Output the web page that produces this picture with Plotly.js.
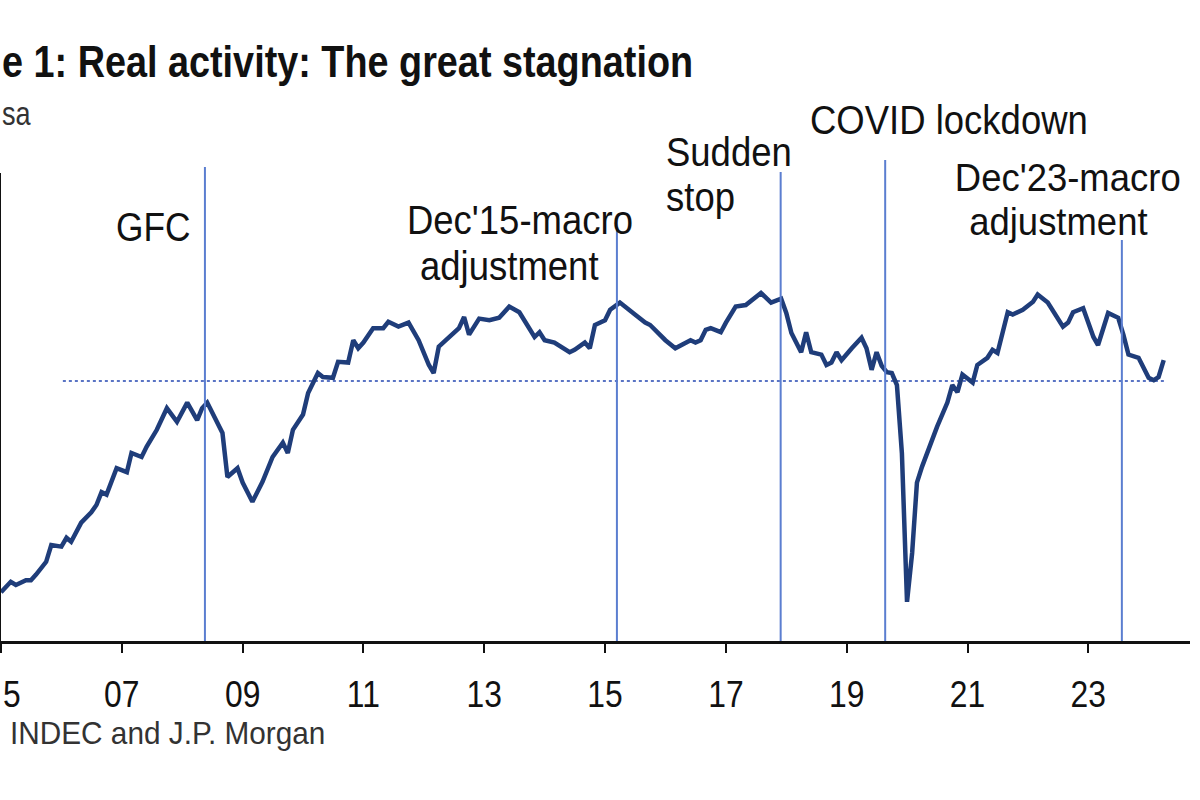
<!DOCTYPE html>
<html>
<head>
<meta charset="utf-8">
<script src="https://cdn.plot.ly/plotly-3.0.1.min.js"></script>
<style>
  html, body { margin: 0; padding: 0; background: #ffffff; }
  #chart { width: 1200px; height: 800px; }
</style>
</head>
<body>
<div id="chart"></div>
<script>
// ---- DATA ----
const dates = [
  '2005-01','2005-03','2005-04','2005-06','2005-07','2005-08','2005-10','2005-11',
  '2006-01','2006-02','2006-03','2006-05','2006-07','2006-08','2006-09','2006-10','2006-12',
  '2007-02','2007-03','2007-05','2007-06','2007-08','2007-10','2007-12',
  '2008-02','2008-04','2008-05','2008-06','2008-09','2008-10','2008-12',
  '2009-01','2009-03','2009-05','2009-07','2009-09','2009-10','2009-11',
  '2010-01','2010-02','2010-04','2010-05','2010-07','2010-08','2010-10','2010-11','2010-12',
  '2011-01','2011-03','2011-05','2011-06','2011-08','2011-10','2011-12',
  '2012-02','2012-03','2012-04','2012-06','2012-08','2012-09','2012-10','2012-12',
  '2013-02','2013-04','2013-06','2013-08','2013-10','2013-11','2013-12',
  '2014-01','2014-03','2014-06','2014-07','2014-09','2014-10','2014-11',
  '2015-01','2015-02','2015-04','2015-06','2015-07','2015-09','2015-10',
  '2016-01','2016-03','2016-06','2016-07','2016-08','2016-09','2016-10','2016-12',
  '2017-01','2017-03','2017-05','2017-07','2017-08','2017-10','2017-12',
  '2018-01','2018-02','2018-04','2018-05','2018-06','2018-08','2018-09','2018-10','2018-11','2018-12',
  '2019-02','2019-04','2019-05','2019-06','2019-07','2019-08','2019-09','2019-10','2019-11','2019-12',
  '2020-01','2020-02','2020-03','2020-04','2020-07','2020-09','2020-10','2020-11','2020-12',
  '2021-02','2021-03','2021-05','2021-06','2021-07','2021-09','2021-10','2021-12',
  '2022-02','2022-03','2022-05','2022-08','2022-09','2022-10','2022-12',
  '2023-02','2023-03','2023-05','2023-07','2023-08','2023-09','2023-11',
  '2024-01','2024-02','2024-03','2024-04'
];
const activity = [
  106.1,107.4,107.0,107.6,107.6,108.3,109.9,112.0,
  111.8,112.9,112.4,114.8,116.1,117.0,118.6,118.3,121.6,
  121.1,123.5,123.0,124.3,126.4,129.1,127.4,
  129.8,127.6,129.1,129.8,126.0,120.5,121.6,
  119.8,117.4,119.9,123.0,124.8,123.5,126.4,
  128.3,131.0,133.5,133.0,132.9,134.9,134.8,137.6,136.6,
  137.3,139.1,139.1,139.9,139.3,139.8,137.6,
  134.5,133.5,136.8,138.0,139.1,140.5,138.3,140.3,
  140.1,140.4,141.8,141.1,139.1,138.0,138.6,
  137.6,137.3,136.1,136.4,137.3,136.6,139.5,
  140.1,141.4,142.3,141.4,140.8,139.8,139.5,
  137.6,136.6,137.6,137.3,137.6,138.9,139.1,138.6,
  139.8,141.8,142.0,142.9,143.5,142.3,142.8,
  141.0,138.5,136.1,138.6,136.1,135.8,134.5,134.8,136.1,135.1,
  136.6,137.9,136.6,133.9,136.1,134.4,133.6,133.5,132.0,123.5,
  104.9,111.0,119.8,121.8,126.8,129.8,132.0,131.1,133.3,
  132.3,134.5,135.4,136.4,136.0,141.1,140.8,141.4,
  142.4,143.3,142.3,139.3,139.8,141.1,141.6,
  138.0,137.0,141.0,140.4,138.3,135.8,135.4,
  132.9,132.6,133.0,135.1
];
// reference level (dotted line)
const refLevel = 132.5;
const refSpan = ['2006-01-10', '2024-04-15'];

// events (vertical lines)
const eventDates = ['2008-05-18', '2015-03-14', '2017-11-28', '2019-08-22', '2023-07-23'];
const eventNames = ['GFC', "Dec'15-macro adjustment", 'Sudden stop', 'COVID lockdown', "Dec'23-macro adjustment"];

// x tick labels (the first one is cut by the picture's left edge: only "5" shows)
const tickYears = ['2005-01-01','2007-01-01','2009-01-01','2011-01-01','2013-01-01','2015-01-01','2017-01-01','2019-01-01','2021-01-01','2023-01-01'];
const tickLabels = ['','07','09','11','13','15','17','19','21','23'];
const firstTickVisible = '5';

// ---- LAYOUT ----
const M = {l: 1, r: 10, t: 173, b: 159};
const W = 1200, H = 800;
const PW = W - M.l - M.r, PH = H - M.t - M.b;
const px = x => (x - M.l) / PW;
const py = y => (H - M.b - y) / PH;

const FONT = '"Liberation Sans", Arial, sans-serif';
const eventTopsPx = [167, 228, 172, 160, 240];

const shapes = eventDates.map((d, i) => ({
  type: 'line', xref: 'x', yref: 'paper',
  x0: d, x1: d, y0: 0, y1: py(eventTopsPx[i]),
  line: {color: '#5b7ed0', width: 2}
}));

// horizontal squeeze factors (the reference uses a narrow typeface)
const squeeze = [];
function ann(text, x, y, anchor, size, sq, opts) {
  squeeze.push({f: sq, anchor: anchor});
  return Object.assign({
    text: text, xref: 'paper', yref: 'paper', x: px(x), y: py(y),
    xanchor: anchor, yanchor: 'middle', showarrow: false,
    font: {family: FONT, size: size, color: '#111111'}
  }, opts || {});
}

const annotations = [
  ann('e 1: Real activity: The great stagnation', 0, 62, 'left', 45, 0.84, {font: {family: FONT, size: 45, color: '#111111', weight: 'bold'}}),
  ann('sa', 0, 113, 'left', 33, 0.82, {font: {family: FONT, size: 33, color: '#333333'}}),
  ann('GFC', 193, 227, 'right', 41, 0.86),
  ann("Dec'15-macro", 520, 220, 'center', 41, 0.89),
  ann('adjustment', 509, 266, 'center', 41, 0.89),
  ann('Sudden', 664, 152, 'left', 41, 0.89),
  ann('stop', 664, 197, 'left', 41, 0.89),
  ann('COVID lockdown', 808, 120, 'left', 41, 0.89),
  ann("Dec'23-macro", 1068, 177, 'center', 39, 0.935),
  ann('adjustment', 1058, 222, 'center', 39, 0.935),
  ann('INDEC and J.P. Morgan', 8, 733, 'left', 32, 0.93, {font: {family: FONT, size: 32, color: '#333333'}}),
  ann(firstTickVisible, 1, 694, 'left', 37, 0.86)
];

const traces = [
  {
    x: refSpan, y: [refLevel, refLevel], type: 'scatter', mode: 'lines',
    line: {color: '#5a74c4', width: 2, dash: 'dot'}, hoverinfo: 'skip', showlegend: false
  },
  {
    x: dates, y: activity, type: 'scatter', mode: 'lines',
    line: {color: '#1f3d7a', width: 4.5}, showlegend: false, name: 'Real activity'
  }
];

const layout = {
  width: W, height: H,
  margin: M,
  paper_bgcolor: '#ffffff', plot_bgcolor: '#ffffff',
  showlegend: false,
  xaxis: {
    type: 'date',
    range: ['2005-01-01', '2024-09-07'],
    showgrid: false, zeroline: false,
    showline: true, linecolor: '#111111', linewidth: 3,
    ticks: 'outside', ticklen: 9, tickwidth: 2, tickcolor: '#111111',
    tickvals: tickYears, ticktext: tickLabels,
    ticklabelstandoff: 10,
    tickfont: {family: FONT, size: 37, color: '#111111'}
  },
  yaxis: {
    range: [100, 158.5],
    showgrid: false, zeroline: false,
    showline: true, linecolor: '#111111', linewidth: 3,
    ticks: '', showticklabels: false
  },
  shapes: shapes,
  annotations: annotations
};

function narrow(el, f, anchor) {
  const w = el.getComputedTextLength();
  if (!w) return;
  el.setAttribute('lengthAdjust', 'spacingAndGlyphs');
  el.setAttribute('textLength', (w * f).toFixed(2));
  let dx = 0;
  if (anchor === 'left') dx = -(1 - f) * w / 2;
  else if (anchor === 'right') dx = (1 - f) * w / 2;
  if (dx) {
    const x = parseFloat(el.getAttribute('x') || '0');
    el.setAttribute('x', (x + dx).toFixed(2));
  }
}

Plotly.newPlot('chart', traces, layout, {displayModeBar: false, staticPlot: true}).then(gd => {
  gd.querySelectorAll('.annotation').forEach(g => {
    const i = parseInt(g.getAttribute('data-index'), 10);
    const t = g.querySelector('text.annotation-text');
    if (!t || !squeeze[i]) return;
    narrow(t, squeeze[i].f, squeeze[i].anchor);
    // shrink the (invisible) annotation box to the narrowed text
    const bb = t.getBBox();
    g.querySelectorAll('rect').forEach(r => {
      r.setAttribute('x', (bb.x - 1).toFixed(2));
      r.setAttribute('width', (bb.width + 2).toFixed(2));
    });
  });
  gd.querySelectorAll('.xtick text').forEach(t => narrow(t, 0.86, 'center'));
});
</script>
</body>
</html>
